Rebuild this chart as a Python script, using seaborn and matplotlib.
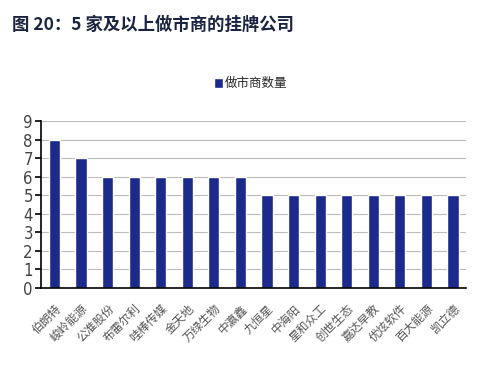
import matplotlib
matplotlib.use("Agg")
import matplotlib.pyplot as plt
import seaborn as sns
import pandas as pd
import numpy as np

companies = ["伯朗特", "峻岭能源", "公准股份", "布雷尔利", "哇棒传媒", "金天地", "万绿生物", "中瀛鑫",
             "九恒星", "中海阳", "星和众工", "创世生态", "嘉达早教", "优炫软件", "百大能源", "凯立德"]
counts = [8, 7, 6, 6, 6, 6, 6, 6, 5, 5, 5, 5, 5, 5, 5, 5]
yticks = list(range(0, 10))
series_name = "做市商数量"
title = "图 20：5 家及以上做市商的挂牌公司"

sns.set_theme(style="white")
plt.rcParams['font.family'] = ['Noto Sans CJK SC', 'DejaVu Sans']

df = pd.DataFrame({"公司": companies, series_name: counts})

fig = plt.figure(figsize=(4.96, 3.82), dpi=100)
ax = fig.add_axes([0.083, 0.246, 0.857, 0.437])
bar_color = "#1C2A8C"
sns.barplot(data=df, x="公司", y=series_name, color=bar_color, width=0.42, ax=ax,
            label=series_name, saturation=1)

ax.set_ylim(0, 9)
ax.set_xlim(-0.5, len(companies) - 0.5)
ax.set_yticks(yticks)
ax.set_yticklabels([str(v) for v in yticks], fontsize=12, family=['DejaVu Sans'],
                   fontstretch="condensed", color="#444444")
ax.yaxis.grid(True, color="#BBBBBB", linewidth=0.8)
ax.set_axisbelow(True)
for s in ["top", "right"]:
    ax.spines[s].set_visible(False)
for s in ["left", "bottom"]:
    ax.spines[s].set_color("black")
    ax.spines[s].set_linewidth(1.2)

ax.set_xticks(np.arange(len(companies)))
ax.set_xticklabels(companies, rotation=45, ha="right", rotation_mode="anchor",
                   fontsize=8.5, color="#555555")
ax.tick_params(axis="x", length=0, pad=10)
ax.set_xticks(np.arange(-0.5, len(companies) + 0.5, 1), minor=True)
ax.tick_params(axis="x", which="minor", length=5, width=1.2, color="black", direction="out")
ax.tick_params(axis="y", length=4, width=1.2, color="black", direction="out", left=True, pad=2)
ax.set_xlabel("")
ax.set_ylabel("")

leg = ax.legend(loc="upper left", bbox_to_anchor=(0.38, 1.33), frameon=False,
                fontsize=9, handlelength=0.7, handleheight=0.9, handletextpad=0.2)

fig.text(0.025, 0.935, title, fontsize=12.5, fontweight="bold", color="#1A2440", va="center")

fig.savefig("out.png", dpi=100)
